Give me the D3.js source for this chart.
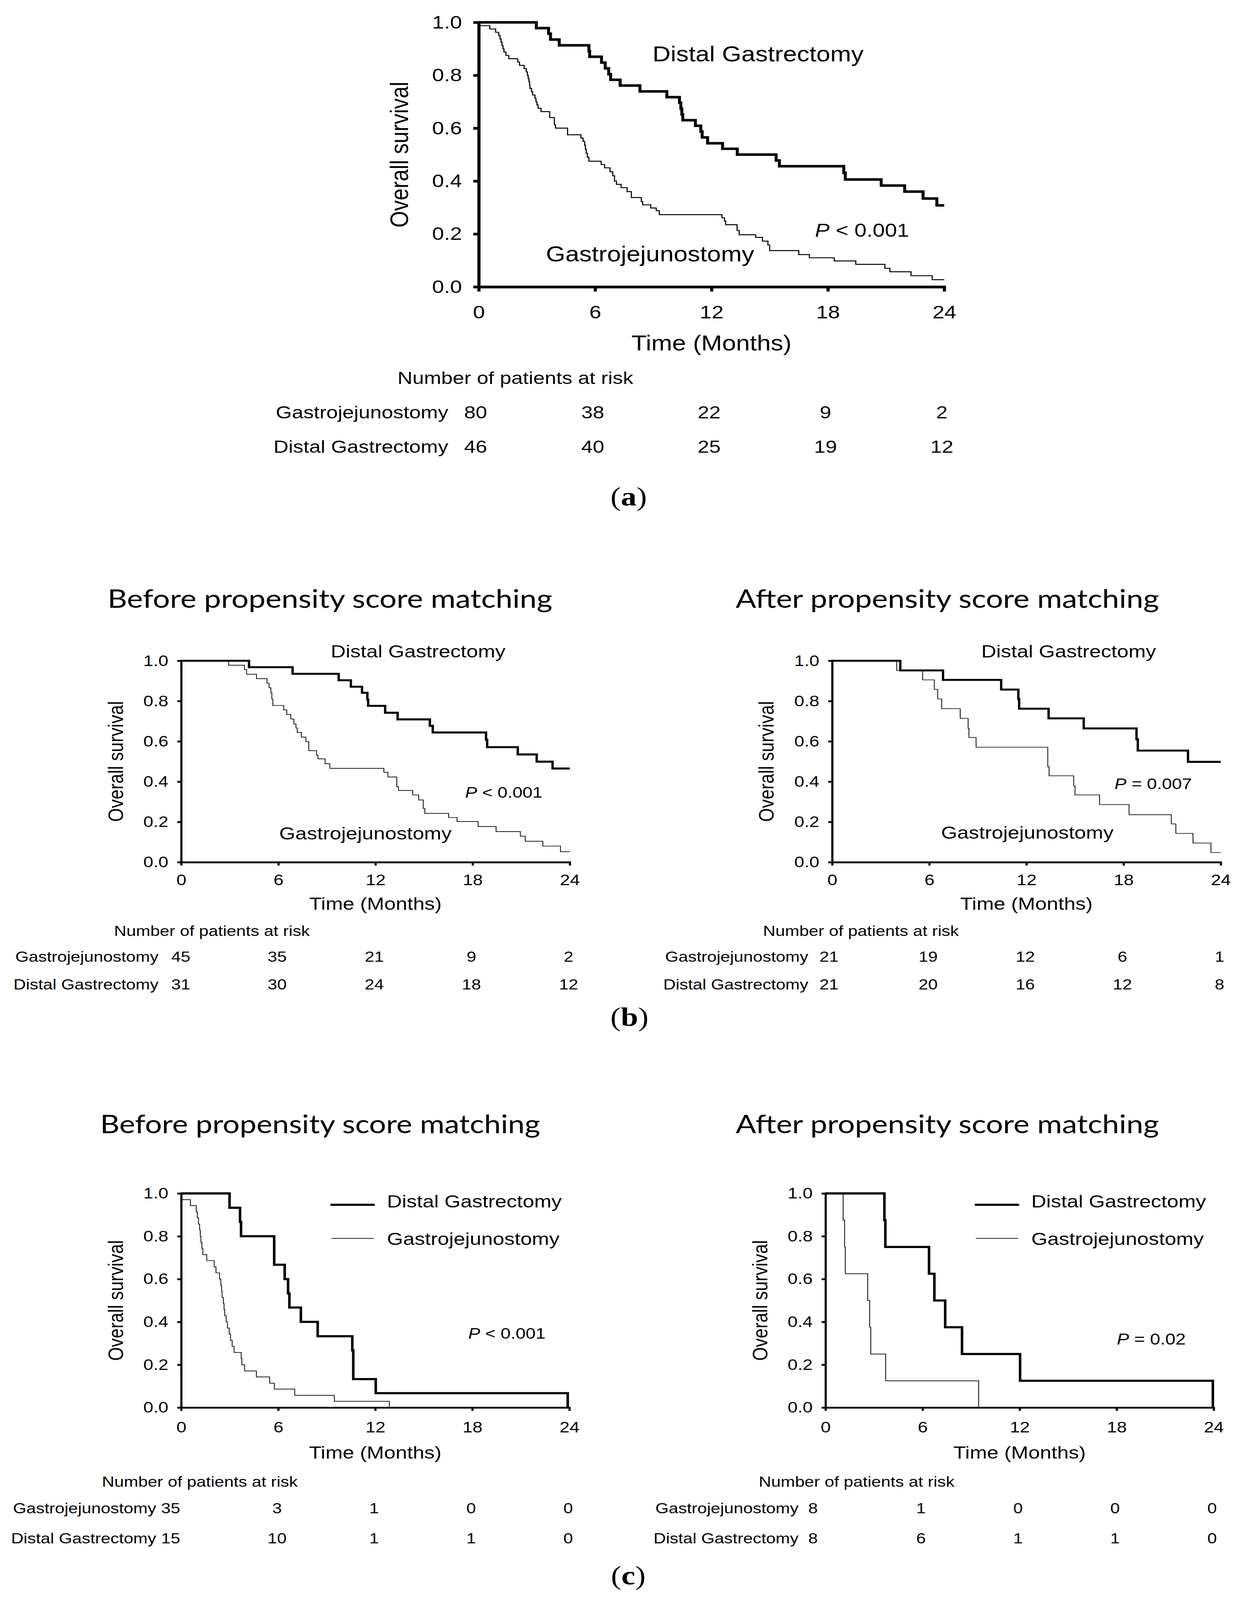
<!DOCTYPE html>
<html>
<head>
<meta charset="utf-8">
<script src="https://cdn.jsdelivr.net/npm/d3@7"></script>
<style>
  html, body { margin: 0; padding: 0; background: #fff; overflow: hidden; }
  svg { display: block; }
</style>
</head>
<body>
<script>
// Kaplan-Meier steps as [month, overall survival]
// (a) whole cohort
const aGJ = [[0,1],[0.05,0.9875],[0.57,0.975],[0.87,0.9625],[1.03,0.95],[1.1,0.9375],[1.15,0.925],[1.2,0.9125],[1.25,0.9],[1.3,0.8875],[1.4,0.875],[1.55,0.8625],[2.01,0.85],[2.1,0.8375],[2.34,0.825],[2.45,0.8125],[2.51,0.8],[2.55,0.7875],[2.59,0.775],[2.62,0.7625],[2.64,0.75],[2.72,0.7375],[2.78,0.725],[2.9,0.7125],[2.95,0.7],[3.0,0.6875],[3.06,0.675],[3.21,0.6625],[3.66,0.64],[3.9,0.6125],[3.96,0.6],[4.58,0.575],[5.27,0.5625],[5.38,0.55],[5.46,0.535],[5.5,0.52],[5.54,0.505],[5.6,0.49],[5.68,0.475],[6.31,0.4625],[6.49,0.45],[6.77,0.435],[6.91,0.42],[7.0,0.4],[7.1,0.3875],[7.34,0.375],[7.65,0.36],[7.87,0.3375],[8.38,0.3225],[8.45,0.31],[8.87,0.298],[9.15,0.288],[9.31,0.273],[12.54,0.261],[12.67,0.249],[12.73,0.235],[13.32,0.213],[13.43,0.197],[14.28,0.187],[14.63,0.173],[14.91,0.158],[15.0,0.137],[16.5,0.122],[17.05,0.11],[18.33,0.098],[19.44,0.085],[20.94,0.07],[21.2,0.057],[22.29,0.042],[23.38,0.027],[24,0.027]];
const aDG = [[0,1],[2.97,0.978],[3.6,0.957],[3.7,0.935],[4.15,0.913],[5.68,0.891],[5.72,0.87],[6.33,0.848],[6.52,0.826],[6.7,0.804],[6.8,0.783],[7.29,0.761],[8.31,0.739],[9.7,0.717],[10.35,0.696],[10.42,0.674],[10.47,0.652],[10.52,0.63],[11.17,0.609],[11.45,0.587],[11.52,0.565],[11.8,0.543],[12.57,0.522],[13.33,0.5],[15.33,0.478],[15.5,0.456],[18.82,0.431],[18.9,0.406],[20.75,0.383],[21.96,0.36],[22.91,0.334],[23.62,0.308],[24,0.308]];
// (b) before / after propensity score matching
const bBeforeGJ = [[0,1],[2.93,0.978],[3.91,0.956],[4.04,0.933],[4.65,0.911],[5.3,0.889],[5.43,0.866],[5.54,0.841],[5.6,0.81],[5.66,0.778],[6.33,0.756],[6.52,0.733],[6.77,0.711],[6.96,0.686],[7.09,0.666],[7.17,0.644],[7.42,0.621],[7.7,0.599],[7.88,0.554],[8.36,0.532],[8.45,0.513],[8.89,0.489],[9.18,0.466],[12.52,0.446],[12.77,0.423],[13.32,0.375],[13.42,0.356],[14.3,0.334],[14.67,0.309],[14.95,0.267],[15.05,0.242],[16.52,0.222],[17.04,0.202],[18.34,0.177],[19.45,0.152],[20.95,0.129],[21.25,0.104],[22.34,0.08],[23.43,0.052],[24,0.052]];
const bBeforeDG = [[0,1],[4.19,0.968],[6.88,0.935],[9.73,0.903],[10.48,0.871],[11.17,0.841],[11.5,0.807],[11.55,0.776],[12.6,0.742],[13.37,0.709],[15.36,0.677],[15.54,0.644],[18.83,0.608],[18.9,0.571],[20.79,0.535],[21.96,0.499],[22.94,0.465],[24,0.465]];
const bAfterGJ = [[0,1],[3.99,0.952],[5.59,0.905],[6.31,0.858],[6.52,0.81],[6.77,0.762],[7.91,0.714],[8.4,0.664],[8.45,0.619],[8.89,0.571],[13.32,0.474],[13.4,0.429],[14.92,0.379],[15.0,0.334],[16.52,0.286],[18.34,0.236],[20.95,0.19],[21.23,0.143],[22.29,0.095],[23.4,0.048],[24,0.048]];
const bAfterDG = [[0,1],[4.21,0.952],[6.85,0.905],[10.44,0.857],[11.5,0.81],[11.55,0.762],[13.37,0.714],[15.54,0.664],[18.8,0.61],[18.88,0.554],[21.98,0.498],[24,0.498]];
// (c)
const cBeforeGJ = [[0,1],[0.05,0.971],[0.57,0.943],[0.93,0.914],[1.0,0.886],[1.07,0.857],[1.14,0.829],[1.18,0.8],[1.22,0.771],[1.28,0.743],[1.34,0.714],[1.58,0.686],[2.04,0.657],[2.15,0.629],[2.37,0.6],[2.45,0.571],[2.5,0.543],[2.53,0.514],[2.61,0.486],[2.65,0.457],[2.69,0.429],[2.78,0.4],[2.86,0.371],[2.97,0.343],[3.05,0.314],[3.15,0.286],[3.27,0.257],[3.71,0.229],[3.75,0.2],[3.92,0.171],[4.65,0.143],[5.47,0.114],[5.76,0.086],[7.02,0.057],[9.47,0.029],[12.87,0]];
const cBeforeDG = [[0,1],[2.99,0.933],[3.64,0.867],[3.7,0.8],[5.75,0.667],[6.4,0.6],[6.61,0.533],[6.69,0.467],[7.4,0.4],[8.44,0.333],[10.58,0.267],[10.64,0.133],[12.03,0.067],[23.9,0]];
const cAfterGJ = [[0,1],[1.09,0.875],[1.18,0.75],[1.22,0.625],[2.61,0.5],[2.73,0.375],[2.8,0.25],[3.72,0.125],[9.47,0]];
const cAfterDG = [[0,1],[3.64,0.875],[3.7,0.75],[6.4,0.625],[6.73,0.5],[7.4,0.375],[8.44,0.25],[12.03,0.125],[23.95,0]];

// number at risk at 0, 6, 12, 18, 24 months
const aRiskGJ = [80, 38, 22, 9, 2];
const aRiskDG = [46, 40, 25, 19, 12];
const bBeforeRiskGJ = [45, 35, 21, 9, 2];
const bBeforeRiskDG = [31, 30, 24, 18, 12];
const bAfterRiskGJ = [21, 19, 12, 6, 1];
const bAfterRiskDG = [21, 20, 16, 12, 8];
const cBeforeRiskGJ = [35, 3, 1, 0, 0];
const cBeforeRiskDG = [15, 10, 1, 1, 0];
const cAfterRiskGJ = [8, 1, 0, 0, 0];
const cAfterRiskDG = [8, 6, 1, 1, 0];

const monthTicks = [0, 6, 12, 18, 24];
const survTicks = [0, 0.2, 0.4, 0.6, 0.8, 1.0];
const GJ = "Gastrojejunostomy";
const DG = "Distal Gastrectomy";

const SANS = "'Liberation Sans', Arial, Helvetica, sans-serif";

// the figure is laid out on a 3178x4797 sheet; the browser caps the window
// height, so the sheet is stretched onto whatever viewport we actually get
const W = 3178, H = 4797;
var vw = window.innerWidth || W, vh = window.innerHeight || H;
if (vh > H) vh = H;

var svg = d3.select("body").append("svg")
    .attr("width", vw)
    .attr("height", vh)
    .attr("viewBox", "0 0 " + W + " " + H)
    .attr("preserveAspectRatio", "none")
    .style("background", "#fff");

var panels = [
    {x0: 1226, x1: 2418, top: 67, bot: 860, axisW: 8, tick: 14, thick: 7.6, thin: 2.8,
     fTick: 55, fLab: 64, fP: 56, fRisk: 53,
     gj: aGJ, dg: aDG, riskGJ: aRiskGJ, riskDG: aRiskDG, pOp: "<", pVal: "0.001",
     xLabBase: 94, yLabOff: 43, yTitleX: 1045, timeBase: 1051,
     labDG: [1671, 184], labGJ: [1398, 783], pPos: [2087, 710],
     headX: 1018, headY: 1151, labRight: 1148, rows: [1254, 1357], dx0: -8, dx: -6},
    {x0: 464, x1: 1459, top: 1981, bot: 2585, axisW: 5.5, tick: 10, thick: 6, thin: 2,
     fTick: 46, fLab: 53, fP: 46, fRisk: 44,
     gj: bBeforeGJ, dg: bBeforeDG, riskGJ: bBeforeRiskGJ, riskDG: bBeforeRiskDG, pOp: "<", pVal: "0.001",
     xLabBase: 69, yLabOff: 33, yTitleX: 315, timeBase: 2728,
     labDG: [847, 1971], labGJ: [715, 2517], pPos: [1191, 2392],
     headX: 292, headY: 2806, labRight: 406, rows: [2883, 2966], dx0: -1, dx: -3,
     title: "Before propensity score matching", titleX: 845, titleY: 1822, titleW: 1139},
    {x0: 2131, x1: 3126, top: 1981, bot: 2585, axisW: 5.5, tick: 10, thick: 6, thin: 2,
     fTick: 46, fLab: 53, fP: 46, fRisk: 44,
     gj: bAfterGJ, dg: bAfterDG, riskGJ: bAfterRiskGJ, riskDG: bAfterRiskDG, pOp: "=", pVal: "0.007",
     xLabBase: 69, yLabOff: 33, yTitleX: 1981, timeBase: 2728,
     labDG: [2513, 1971], labGJ: [2410, 2515], pPos: [2854, 2366],
     headX: 1954, headY: 2806, labRight: 2070, rows: [2883, 2966], dx0: -8, dx: -3,
     title: "After propensity score matching", titleX: 2426, titleY: 1822, titleW: 1084},
    {x0: 464, x1: 1458, top: 3578, bot: 4220, axisW: 5.5, tick: 10, thick: 6.5, thin: 2,
     fTick: 46, fLab: 53, fP: 46, fRisk: 44,
     gj: cBeforeGJ, dg: cBeforeDG, riskGJ: cBeforeRiskGJ, riskDG: cBeforeRiskDG, pOp: "<", pVal: "0.001",
     xLabBase: 75, yLabOff: 33, yTitleX: 315, timeBase: 4373,
     legend: {x1: 849, x2: 957, lineY: [3612, 3713], textX: 991, textY: [3620, 3732]}, pPos: [1199, 4014],
     headX: 261, headY: 4457, labRight: 400, rows: [4537, 4627], dx0: -27, dx: -3,
     title: "Before propensity score matching", titleX: 820, titleY: 3398, titleW: 1127},
    {x0: 2114, x1: 3108, top: 3578, bot: 4220, axisW: 5.5, tick: 10, thick: 6.5, thin: 2,
     fTick: 46, fLab: 53, fP: 47, fRisk: 44,
     gj: cAfterGJ, dg: cAfterDG, riskGJ: cAfterRiskGJ, riskDG: cAfterRiskDG, pOp: "=", pVal: "0.02",
     xLabBase: 75, yLabOff: 33, yTitleX: 1965, timeBase: 4373,
     legend: {x1: 2499, x2: 2607, lineY: [3612, 3713], textX: 2641, textY: [3620, 3732]}, pPos: [2860, 4031],
     headX: 1943, headY: 4457, labRight: 2045, rows: [4537, 4627], dx0: -32, dx: -4,
     title: "After propensity score matching", titleX: 2426, titleY: 3398, titleW: 1084}
];

function drawPanel(p) {
    var g = svg.append("g");
    var x = d3.scaleLinear().domain([0, 24]).range([p.x0, p.x1]);
    var y = d3.scaleLinear().domain([0, 1]).range([p.bot, p.top]);

    // axes
    var xAxis = g.append("g")
        .attr("transform", "translate(0," + p.bot + ")")
        .call(d3.axisBottom(x).tickValues(monthTicks).tickSize(p.tick).tickSizeOuter(0)
            .tickPadding(p.xLabBase - 0.71 * p.fTick - p.tick).tickFormat(d3.format("d")));
    var yAxis = g.append("g")
        .attr("transform", "translate(" + p.x0 + ",0)")
        .call(d3.axisLeft(y).tickValues(survTicks).tickSize(p.tick).tickSizeOuter(0)
            .tickPadding(p.yLabOff - p.tick).tickFormat(d3.format(".1f")));
    [xAxis, yAxis].forEach(function (a) {
        a.attr("font-family", SANS).attr("font-size", p.fTick);
        a.select(".domain").attr("stroke", "#000").attr("stroke-width", p.axisW).attr("stroke-linecap", "square");
        a.selectAll(".tick line").attr("stroke", "#000").attr("stroke-width", p.axisW);
        a.selectAll(".tick text").attr("fill", "#000");
    });

    // axis titles
    g.append("text")
        .attr("transform", "translate(" + p.yTitleX + "," + (p.top + p.bot) / 2 + ") rotate(-90)")
        .attr("text-anchor", "middle")
        .attr("font-family", SANS).attr("font-size", p.fLab)
        .text("Overall survival");
    g.append("text")
        .attr("x", x(12)).attr("y", p.timeBase)
        .attr("text-anchor", "middle")
        .attr("font-family", SANS).attr("font-size", p.fLab)
        .text("Time (Months)");

    // survival curves
    var line = d3.line()
        .x(function (d) { return x(d[0]); })
        .y(function (d) { return y(d[1]); })
        .curve(d3.curveStepAfter);
    g.append("path").datum(p.gj)
        .attr("d", line).attr("fill", "none").attr("stroke", "#000")
        .attr("stroke-width", p.thin);
    g.append("path").datum(p.dg)
        .attr("d", line).attr("fill", "none").attr("stroke", "#000")
        .attr("stroke-width", p.thick).attr("stroke-linejoin", "miter");

    // curve labels or legend
    if (p.legend) {
        var L = p.legend;
        [[p.thick, DG], [p.thin, GJ]].forEach(function (it, i) {
            g.append("line")
                .attr("x1", L.x1).attr("x2", L.x2)
                .attr("y1", L.lineY[i]).attr("y2", L.lineY[i])
                .attr("stroke", "#000").attr("stroke-width", it[0])
                .attr("stroke-linecap", i == 0 ? "round" : "butt");
            g.append("text")
                .attr("x", L.textX).attr("y", L.textY[i])
                .attr("font-family", SANS).attr("font-size", p.fLab)
                .text(it[1]);
        });
    } else {
        g.append("text").attr("x", p.labDG[0]).attr("y", p.labDG[1])
            .attr("font-family", SANS).attr("font-size", p.fLab).text(DG);
        g.append("text").attr("x", p.labGJ[0]).attr("y", p.labGJ[1])
            .attr("font-family", SANS).attr("font-size", p.fLab).text(GJ);
    }

    // P value
    var pt = g.append("text").attr("x", p.pPos[0]).attr("y", p.pPos[1])
        .attr("font-family", SANS).attr("font-size", p.fP);
    pt.append("tspan").attr("font-style", "italic").text("P");
    pt.append("tspan").text(" " + p.pOp + " " + p.pVal);

    // number at risk table
    g.append("text").attr("x", p.headX).attr("y", p.headY)
        .attr("font-family", SANS).attr("font-size", p.fRisk)
        .text("Number of patients at risk");
    [[GJ, p.riskGJ], [DG, p.riskDG]].forEach(function (row, r) {
        g.append("text")
            .attr("x", p.labRight).attr("y", p.rows[r])
            .attr("text-anchor", "end")
            .attr("font-family", SANS).attr("font-size", p.fRisk)
            .text(row[0]);
        g.selectAll(null).data(row[1]).enter().append("text")
            .attr("x", function (d, i) { return x(monthTicks[i]) + (i == 0 ? p.dx0 : p.dx); })
            .attr("y", p.rows[r])
            .attr("text-anchor", "middle")
            .attr("font-family", SANS).attr("font-size", p.fRisk)
            .text(function (d) { return d; });
    });

    // panel title
    if (p.title) {
        g.append("text")
            .attr("x", p.titleX).attr("y", p.titleY)
            .attr("text-anchor", "middle")
            .attr("font-family", "Lato, 'Open Sans', sans-serif")
            .attr("font-size", 76)
            .attr("textLength", p.titleW)
            .attr("lengthAdjust", "spacingAndGlyphs")
            .text(p.title);
    }
}

panels.forEach(drawPanel);

// sub-figure captions
var captions = [["a", 1610, 1515], ["b", 1612, 3075], ["c", 1609, 4750]];
captions.forEach(function (c) {
    var t = svg.append("text")
        .attr("x", c[1]).attr("y", c[2])
        .attr("text-anchor", "middle")
        .attr("font-family", "'Liberation Serif', 'DejaVu Serif', serif")
        .attr("font-size", 80);
    t.append("tspan").text("(");
    t.append("tspan").attr("font-weight", "bold").text(c[0]);
    t.append("tspan").text(")");
});
</script>
</body>
</html>
